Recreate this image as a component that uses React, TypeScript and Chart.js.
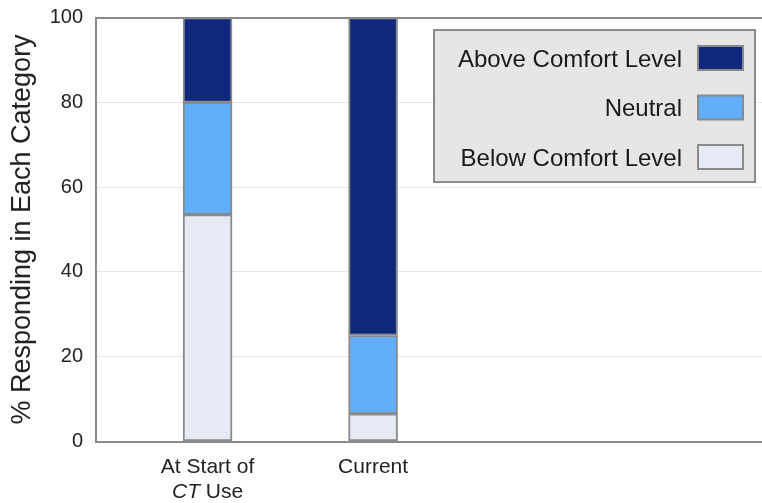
import React, { useEffect, useRef } from "react";
import { Chart, registerables } from "chart.js";

Chart.register(...registerables);

// Categories along the x axis, and how each tick label is broken into lines.
// Text wrapped in *...* is set in italics.
const categories = ["At Start of CT Use", "Current"];
const tickLabelLines = [["At Start of", "*CT* Use"], ["Current"]];

// Series (bottom of the stack first)
const seriesLabels = ["Below Comfort Level", "Neutral", "Above Comfort Level"];
const belowValues = [53.5, 6.5];
const neutralValues = [26.5, 18.5];
const aboveValues = [20, 75];

const yTicks = [0, 20, 40, 60, 80, 100];

const FONT = '"Liberation Sans", Arial, Helvetica, sans-serif';
const COLORS = ["#e6eaf5", "#62aef8", "#10287b"];
const EDGE = "#8a8a8a";

function drawRich(ctx: CanvasRenderingContext2D, line: string, cx: number, cy: number, size: number) {
  const parts: { text: string; italic: boolean }[] = [];
  line.split(/(\*[^*]+\*)/).forEach((p) => {
    if (!p) return;
    if (p.startsWith("*") && p.endsWith("*")) parts.push({ text: p.slice(1, -1), italic: true });
    else parts.push({ text: p, italic: false });
  });
  const fontFor = (it: boolean) => `${it ? "italic " : ""}${size}px ${FONT}`;
  let total = 0;
  parts.forEach((p) => {
    ctx.font = fontFor(p.italic);
    total += ctx.measureText(p.text).width;
  });
  let x = cx - total / 2;
  ctx.textAlign = "left";
  ctx.textBaseline = "middle";
  parts.forEach((p) => {
    ctx.font = fontFor(p.italic);
    ctx.fillText(p.text, x, cy);
    x += ctx.measureText(p.text).width;
  });
}

const categoryLabelPlugin = {
  id: "categoryLabels",
  afterDraw(chart: any, _args: any, opts: any) {
    const { ctx, scales } = chart;
    const xs = scales.x;
    const base = chart.chartArea.bottom;
    ctx.save();
    ctx.fillStyle = "#222";
    tickLabelLines.forEach((lines, i) => {
      const cx = xs.getPixelForValue(i + 1);
      lines.forEach((ln, j) => {
        drawRich(ctx, ln, cx, base + opts.offset + j * opts.lineHeight, opts.size);
      });
    });
    ctx.restore();
  },
};

const boxLegendPlugin = {
  id: "boxLegend",
  afterDraw(chart: any, _args: any, opts: any) {
    const { ctx } = chart;
    const ds = chart.data.datasets.slice().reverse();
    ctx.save();
    ctx.fillStyle = "#e6e6e6";
    ctx.strokeStyle = EDGE;
    ctx.lineWidth = 2;
    ctx.fillRect(opts.left, opts.top, opts.width, opts.height);
    ctx.strokeRect(opts.left, opts.top, opts.width, opts.height);
    ds.forEach((d: any, i: number) => {
      const cy = opts.firstY + i * opts.rowGap;
      const sx = opts.left + opts.width - opts.swatchRight - opts.swatchW;
      ctx.fillStyle = d.backgroundColor;
      ctx.fillRect(sx, cy - opts.swatchH / 2, opts.swatchW, opts.swatchH);
      ctx.strokeStyle = EDGE;
      ctx.lineWidth = 2;
      ctx.strokeRect(sx, cy - opts.swatchH / 2, opts.swatchW, opts.swatchH);
      ctx.fillStyle = "#1a1a1a";
      ctx.font = `${opts.size}px ${FONT}`;
      ctx.textAlign = "right";
      ctx.textBaseline = "middle";
      ctx.fillText(d.label, sx - opts.textGap, cy + 2);
    });
    ctx.restore();
  },
};

export default function App() {
  const ref = useRef<HTMLCanvasElement | null>(null);

  useEffect(() => {
    if (!ref.current) return;
    const series = [belowValues, neutralValues, aboveValues];
    const chart = new Chart(ref.current, {
      type: "bar",
      data: {
        datasets: series.map((vals, k) => ({
          label: seriesLabels[k],
          data: vals.map((v, i) => ({ x: i + 1, y: v })),
          backgroundColor: COLORS[k],
          borderColor: EDGE,
          borderWidth: 2,
          borderSkipped: false,
          barThickness: 49,
        })),
      },
      options: {
        responsive: false,
        animation: false,
        layout: { padding: { top: 17.5, right: 0, left: 0, bottom: 0 } },
        plugins: {
          legend: { display: false },
          tooltip: { enabled: false },
          categoryLabels: { offset: 26, lineHeight: 25, size: 21 },
          boxLegend: {
            left: 434,
            top: 30,
            width: 321,
            height: 152,
            firstY: 58,
            rowGap: 49.5,
            swatchW: 45,
            swatchH: 24,
            swatchRight: 12,
            textGap: 16,
            size: 24,
          },
        } as any,
        scales: {
          x: {
            type: "linear",
            stacked: true,
            offset: false,
            min: 0.326,
            max: 4.35,
            grid: { display: false },
            ticks: { display: false },
            border: { display: true, color: EDGE, width: 2 },
            afterFit: (s: any) => {
              s.height = 61.5;
              s.paddingLeft = 0;
              s.paddingRight = 0;
            },
          },
          y: {
            stacked: true,
            min: 0,
            max: 100,
            afterBuildTicks: (s: any) => {
              s.ticks = yTicks.map((v) => ({ value: v }));
            },
            ticks: {
              padding: 13,
              color: "#222",
              font: { family: FONT, size: 20 },
            },
            grid: {
              drawTicks: false,
              color: (c: any) => (c.tick && c.tick.value === 100 ? EDGE : "#e4e4e4"),
              lineWidth: (c: any) => (c.tick && c.tick.value === 100 ? 2 : 1),
            },
            border: { display: true, color: EDGE, width: 2 },
            title: {
              display: true,
              text: "% Responding in Each Category",
              color: "#222",
              font: { family: FONT, size: 27 },
              padding: { top: 6, bottom: 0 },
            },
            afterFit: (s: any) => {
              s.width = 96;
              s.paddingTop = 0;
              s.paddingBottom = 0;
            },
          },
        },
      },
      plugins: [categoryLabelPlugin, boxLegendPlugin],
    });
    return () => chart.destroy();
  }, []);

  return (
    <div style={{ position: "absolute", left: 0, top: 0, width: 762, height: 503, background: "#fff" }}>
      <canvas ref={ref} width={762} height={503} aria-label={categories.join(", ")} />
    </div>
  );
}
